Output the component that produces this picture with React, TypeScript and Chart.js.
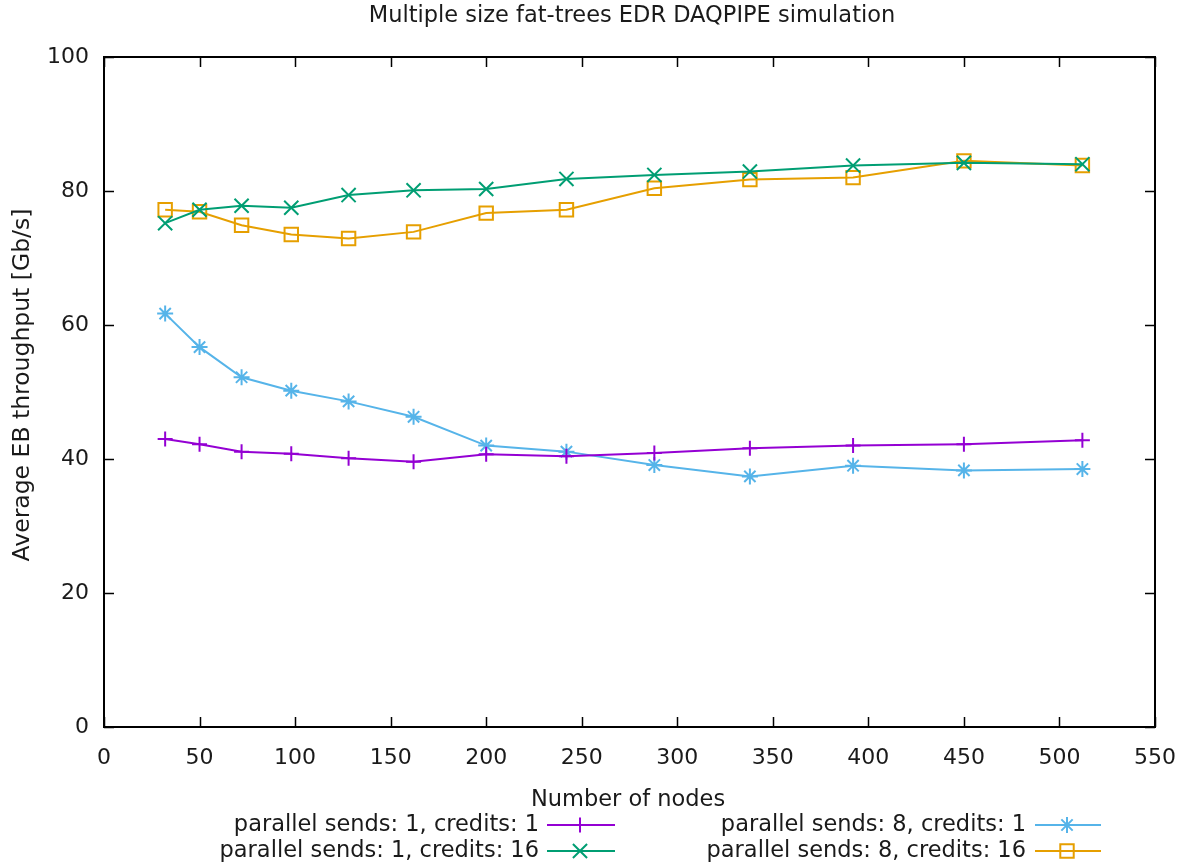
import React, { useEffect, useRef } from 'react';
import { Chart, registerables } from 'chart.js';
import { drawPoint } from 'chart.js/helpers';

Chart.register(...registerables);

const nodes = [32, 50, 72, 98, 128, 162, 200, 242, 288, 338, 392, 450, 512];
const ps1c1 = [43.0, 42.2, 41.1, 40.8, 40.1, 39.6, 40.7, 40.4, 40.9, 41.6, 42.0, 42.2, 42.8];
const ps1c16 = [75.2, 77.2, 77.8, 77.5, 79.4, 80.1, 80.3, 81.8, 82.4, 82.9, 83.8, 84.2, 84.0];
const ps8c1 = [61.7, 56.7, 52.2, 50.2, 48.6, 46.3, 42.0, 41.1, 39.1, 37.4, 39.0, 38.3, 38.5];
const ps8c16 = [77.2, 76.9, 74.9, 73.5, 72.9, 73.9, 76.7, 77.2, 80.4, 81.7, 82.0, 84.5, 83.8];

const seriesLabels = [
  'parallel sends: 1, credits: 1',
  'parallel sends: 1, credits: 16',
  'parallel sends: 8, credits: 1',
  'parallel sends: 8, credits: 16',
];
const seriesColors = ['#9400d3', '#009e73', '#56b4e9', '#e69f00'];
const seriesPoints = ['cross', 'crossRot', 'star', 'rect'];
const seriesRadius = [7.5, 10, 8, 9.5];

const chartTitle = 'Multiple size fat-trees EDR DAQPIPE simulation';
const xTitle = 'Number of nodes';
const yTitle = 'Average EB throughput [Gb/s]';

const FONT = '"DejaVu Sans", sans-serif';
const W = 1183;
const H = 865;
const LEFT = 104;
const RIGHT = 1155;
const TOP = 57;
const BOTTOM = 727;

export default function App() {
  const ref = useRef<HTMLCanvasElement | null>(null);
  useEffect(() => {
    document.body.style.margin = '0';
    const canvas = ref.current;
    if (!canvas) return;
    const values = [ps1c1, ps1c16, ps8c1, ps8c16];
    const datasets = values.map((vals, i) => ({
      label: seriesLabels[i],
      data: nodes.map((n, j) => ({ x: n, y: vals[j] })),
      borderColor: seriesColors[i],
      backgroundColor: 'rgba(0,0,0,0)',
      borderWidth: 2,
      pointStyle: seriesPoints[i] as any,
      pointRadius: seriesRadius[i],
      pointBorderWidth: 2,
      pointBorderColor: seriesColors[i],
      pointBackgroundColor: 'rgba(0,0,0,0)',
      tension: 0,
    }));

    const decor = {
      id: 'decor',
      afterDraw(chart: any) {
        const ctx = chart.ctx as CanvasRenderingContext2D;
        const a = chart.chartArea;
        const xs = chart.scales.x;
        const ys = chart.scales.y;
        ctx.save();
        ctx.strokeStyle = '#000';
        ctx.lineWidth = 1.5;
        const tl = 10;
        ctx.beginPath();
        xs.ticks.forEach((t: any) => {
          const px = Math.round(xs.getPixelForValue(t.value)) + 0.5;
          ctx.moveTo(px, a.bottom);
          ctx.lineTo(px, a.bottom - tl);
          ctx.moveTo(px, a.top);
          ctx.lineTo(px, a.top + tl);
        });
        ys.ticks.forEach((t: any) => {
          const py = Math.round(ys.getPixelForValue(t.value)) + 0.5;
          ctx.moveTo(a.left, py);
          ctx.lineTo(a.left + tl, py);
          ctx.moveTo(a.right, py);
          ctx.lineTo(a.right - tl, py);
        });
        ctx.stroke();
        ctx.lineWidth = 2;
        ctx.strokeRect(a.left, a.top, a.right - a.left, a.bottom - a.top);

        ctx.fillStyle = '#1a1a1a';
        ctx.font = `22.5px ${FONT}`;
        ctx.textAlign = 'center';
        ctx.textBaseline = 'middle';
        ctx.fillText(chartTitle, 632, 16);
        ctx.fillText(xTitle, 628, 800);
        ctx.save();
        ctx.font = `23.5px ${FONT}`;
        ctx.translate(23, 385);
        ctx.rotate(-Math.PI / 2);
        ctx.fillText(yTitle, 0, 0);
        ctx.restore();

        // legend
        const cols = [
          { textRight: 539, lineStart: 547, lineEnd: 615, mark: 580 },
          { textRight: 1026, lineStart: 1035, lineEnd: 1101, mark: 1067 },
        ];
        const rows = [825, 851];
        chart.data.datasets.forEach((ds: any, i: number) => {
          const c = cols[Math.floor(i / 2)];
          const ry = rows[i % 2];
          ctx.fillStyle = '#1a1a1a';
          ctx.textAlign = 'right';
          ctx.fillText(ds.label, c.textRight, ry);
          ctx.strokeStyle = ds.borderColor;
          ctx.lineWidth = 2;
          ctx.beginPath();
          ctx.moveTo(c.lineStart, ry);
          ctx.lineTo(c.lineEnd, ry);
          ctx.stroke();
          ctx.fillStyle = 'rgba(0,0,0,0)';
          drawPoint(ctx, { pointStyle: ds.pointStyle, radius: ds.pointRadius, borderWidth: 2, rotation: 0 } as any, c.mark, ry);
        });
        ctx.restore();
      },
    };

    const chart = new Chart(canvas, {
      type: 'line',
      data: { datasets: datasets as any },
      options: {
        responsive: false,
        animation: false,
        devicePixelRatio: 1,
        layout: { padding: { left: 0, top: TOP, right: W - RIGHT, bottom: 0 } },
        plugins: {
          legend: { display: false },
          title: { display: false },
          tooltip: { enabled: false },
        },
        scales: {
          x: {
            type: 'linear',
            min: 0,
            max: 550,
            ticks: {
              stepSize: 50,
              color: '#1a1a1a',
              font: { family: FONT, size: 22 },
              padding: 18,
              maxRotation: 0,
              autoSkip: false,
            },
            grid: { display: false, drawTicks: false },
            border: { display: false },
            afterFit: (s: any) => {
              s.height = H - BOTTOM;
              s.paddingLeft = 0;
              s.paddingRight = 0;
            },
          },
          y: {
            type: 'linear',
            min: 0,
            max: 100,
            ticks: {
              stepSize: 20,
              color: '#1a1a1a',
              font: { family: FONT, size: 22 },
              padding: 15,
            },
            grid: { display: false, drawTicks: false },
            border: { display: false },
            afterFit: (s: any) => {
              s.width = LEFT;
              s.paddingTop = 0;
              s.paddingBottom = 0;
            },
          },
        },
      },
      plugins: [decor as any],
    });

    return () => chart.destroy();
  }, []);

  return <canvas ref={ref} width={W} height={H} style={{ display: 'block', width: W, height: H }} />;
}
